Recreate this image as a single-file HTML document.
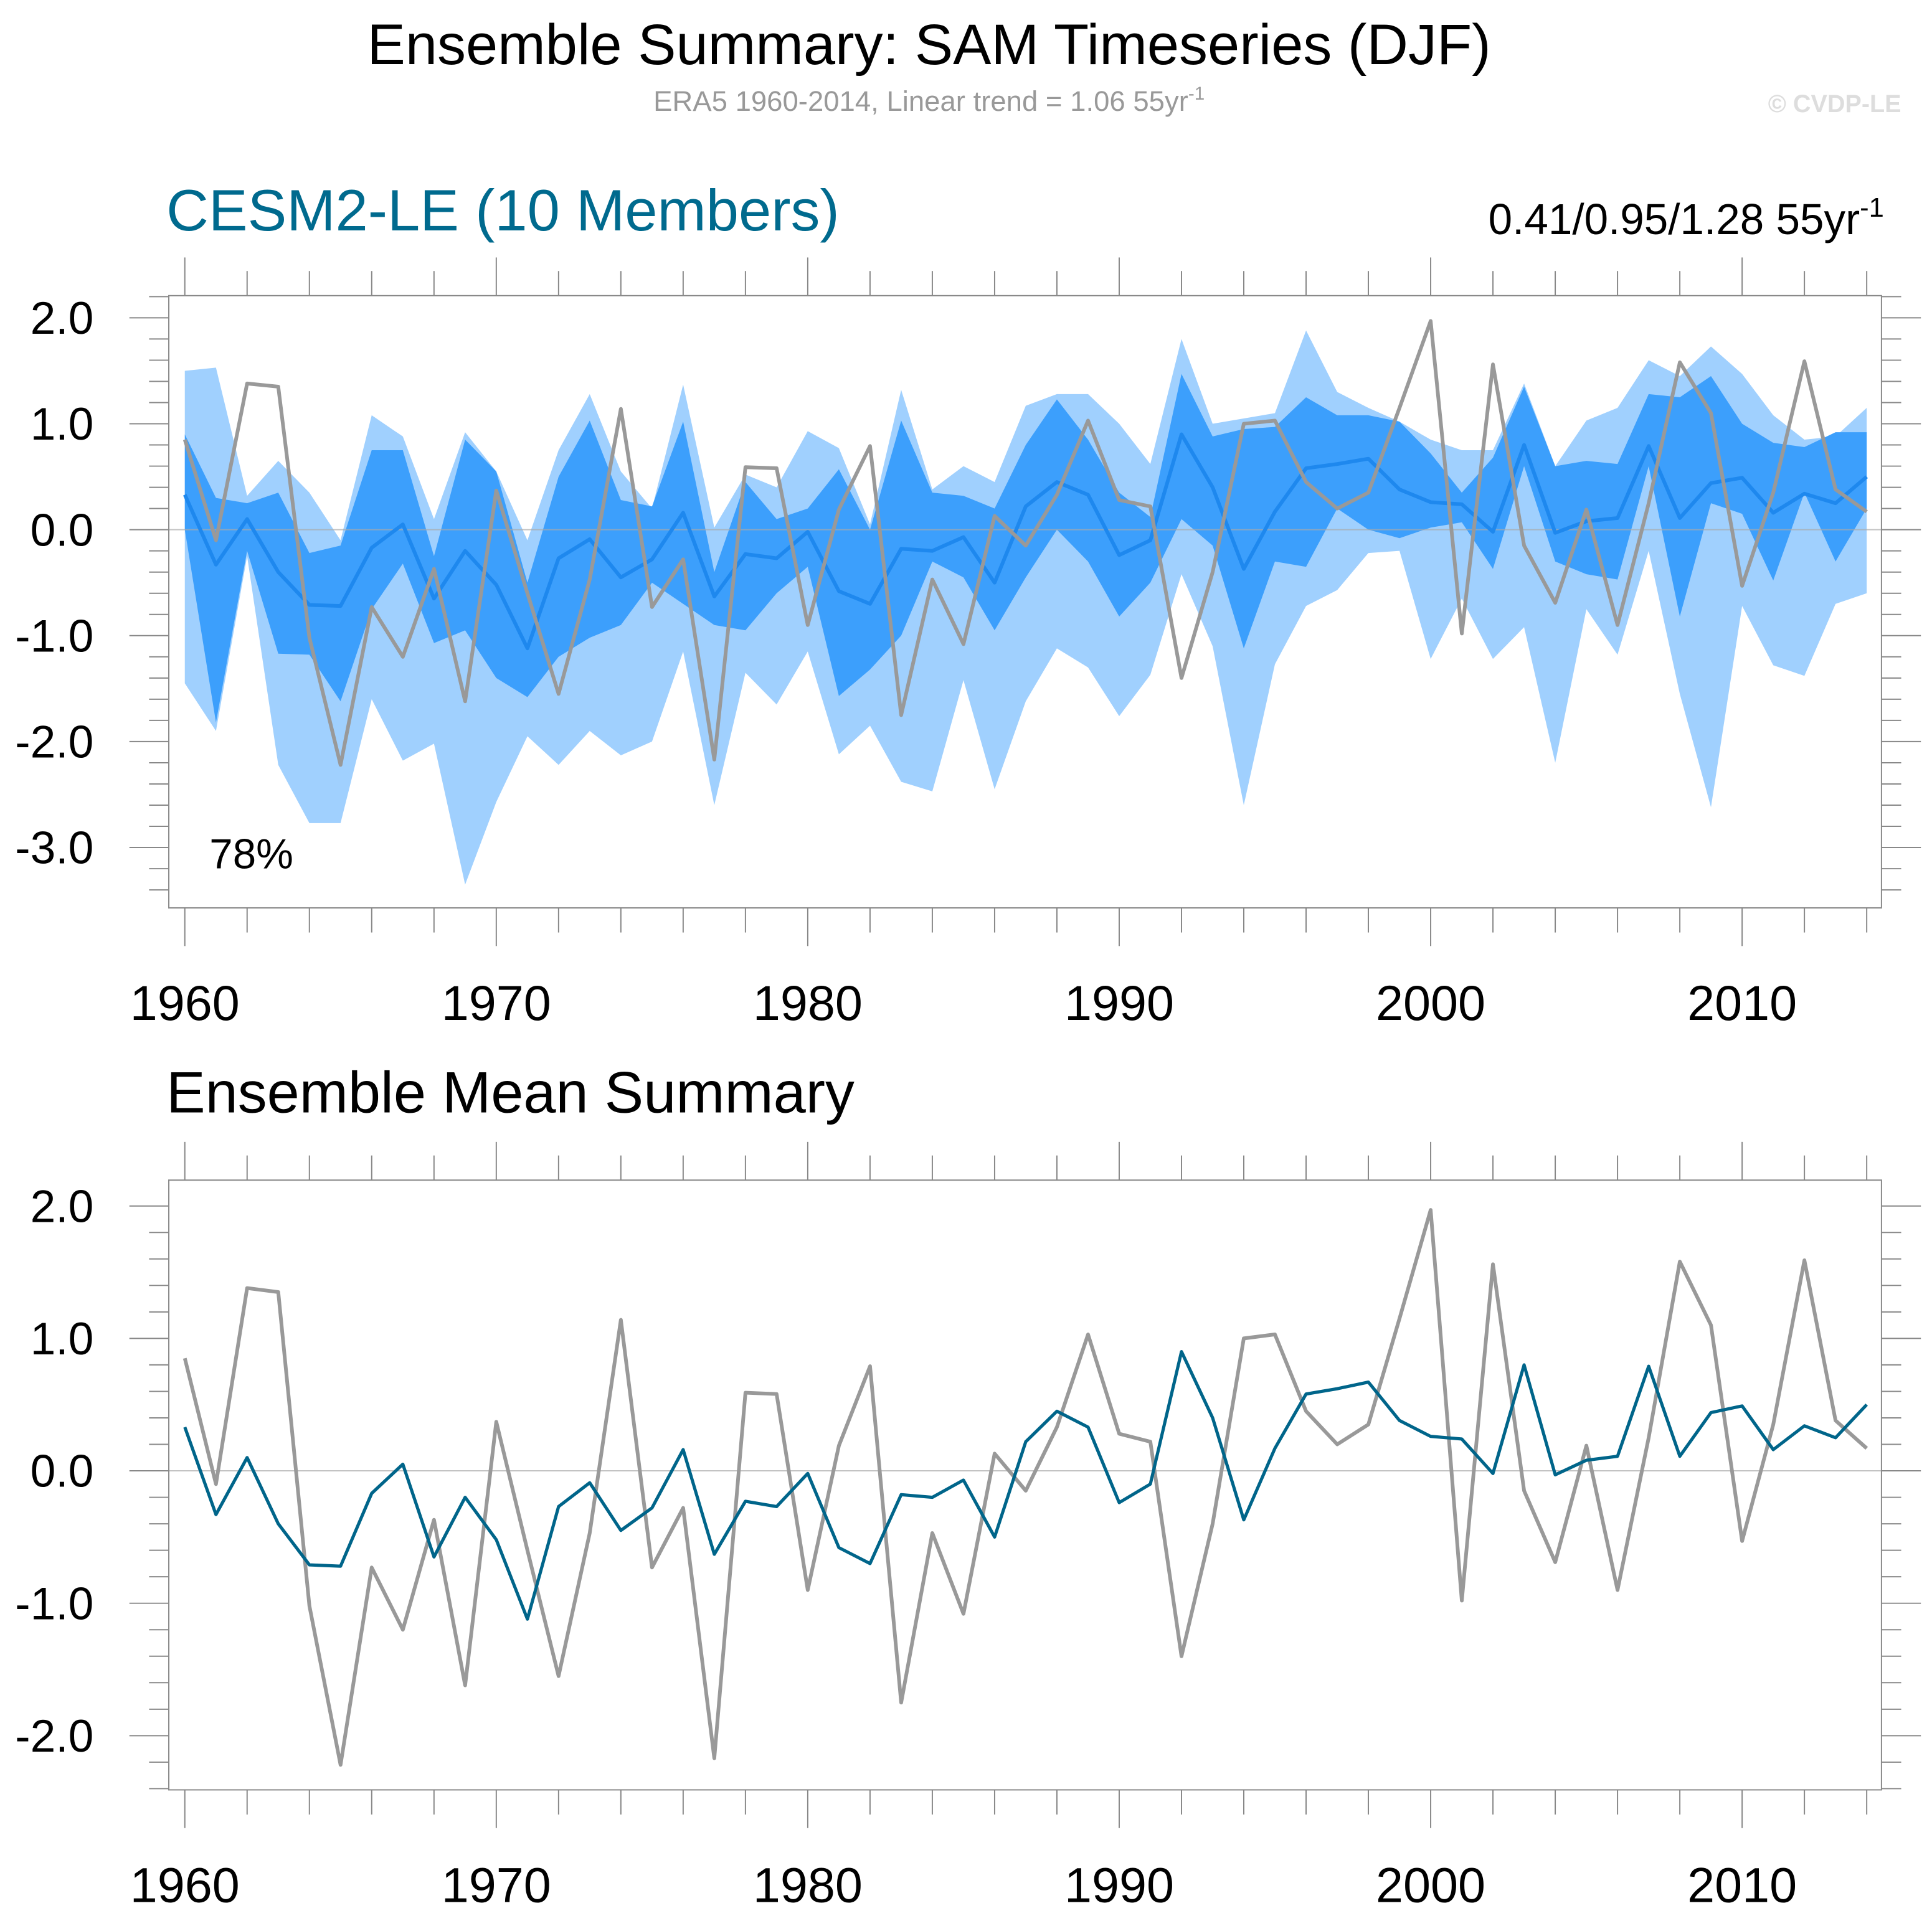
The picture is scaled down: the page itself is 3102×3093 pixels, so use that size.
<!DOCTYPE html>
<html><head><meta charset="utf-8"><style>
html,body{margin:0;padding:0;background:#fff;}
svg{display:block;font-family:"Liberation Sans",sans-serif;}
</style></head><body>
<svg id="chart" width="3102" height="3093" viewBox="0 0 1568 1563.5" preserveAspectRatio="none" xmlns="http://www.w3.org/2000/svg">
<text x="754" y="52" font-size="46.5" text-anchor="middle" fill="#000">Ensemble Summary: SAM Timeseries (DJF)</text>
<text x="754" y="90" font-size="23" text-anchor="middle" fill="#999">ERA5 1960-2014, Linear trend = 1.06 55yr<tspan dy="-9" font-size="15">-1</tspan></text>
<text x="1543" y="91" font-size="20" font-weight="bold" text-anchor="end" fill="#ddd">© CVDP-LE</text>
<text x="135" y="187" font-size="47.5" fill="#006a8e">CESM2-LE (10 Members)</text>
<text x="1529" y="190" font-size="35" text-anchor="end" fill="#000">0.41/0.95/1.28 55yr<tspan dy="-14" font-size="22">-1</tspan></text>
<text x="135" y="903" font-size="47.4" fill="#000">Ensemble Mean Summary</text>
<g id="p1"></g><g id="p2"></g>
</svg>
<script>
const years=[];for(let y=1960;y<=2014;y++)years.push(y);
const obs=[0.85,-0.1,1.38,1.35,-1.02,-2.22,-0.73,-1.2,-0.37,-1.62,0.37,-0.6,-1.55,-0.47,1.14,-0.73,-0.28,-2.17,0.59,0.58,-0.9,0.19,0.79,-1.75,-0.47,-1.08,0.13,-0.15,0.33,1.03,0.28,0.22,-1.4,-0.4,1.0,1.03,0.45,0.2,0.35,1.15,1.97,-0.98,1.56,-0.15,-0.69,0.19,-0.9,0.25,1.58,1.1,-0.53,0.35,1.59,0.38,0.17];
const ensMean=[0.33,-0.33,0.1,-0.4,-0.71,-0.72,-0.17,0.05,-0.65,-0.2,-0.52,-1.12,-0.27,-0.09,-0.45,-0.28,0.16,-0.63,-0.23,-0.27,-0.02,-0.58,-0.7,-0.18,-0.2,-0.07,-0.5,0.22,0.45,0.33,-0.24,-0.1,0.9,0.4,-0.37,0.17,0.58,0.62,0.67,0.38,0.26,0.24,-0.02,0.8,-0.03,0.08,0.11,0.79,0.11,0.44,0.49,0.16,0.34,0.25,0.5];
const ensMax=[1.5,1.53,0.32,0.65,0.35,-0.1,1.08,0.88,0.1,0.92,0.55,-0.1,0.75,1.28,0.55,0.2,1.37,0.02,0.52,0.4,0.93,0.77,0.05,1.32,0.38,0.6,0.45,1.17,1.28,1.28,1.0,0.62,1.8,1.0,1.05,1.1,1.88,1.3,1.15,1.02,0.85,0.75,0.75,1.38,0.6,1.03,1.15,1.6,1.45,1.73,1.47,1.08,0.85,0.88,1.15];
const ensMin=[-1.45,-1.9,-0.25,-2.22,-2.77,-2.77,-1.6,-2.18,-2.02,-3.35,-2.57,-1.95,-2.22,-1.9,-2.13,-2.0,-1.15,-2.6,-1.35,-1.65,-1.15,-2.12,-1.85,-2.38,-2.47,-1.42,-2.45,-1.62,-1.12,-1.3,-1.76,-1.37,-0.42,-1.1,-2.6,-1.27,-0.72,-0.57,-0.22,-0.2,-1.22,-0.65,-1.22,-0.92,-2.2,-0.75,-1.18,-0.2,-1.55,-2.62,-0.72,-1.28,-1.38,-0.7,-0.6];
const ensHi=[0.9,0.3,0.25,0.35,-0.22,-0.15,0.75,0.75,-0.25,0.85,0.55,-0.5,0.5,1.03,0.28,0.22,1.02,-0.4,0.45,0.1,0.2,0.57,0.0,1.03,0.35,0.32,0.2,0.8,1.23,0.85,0.35,0.12,1.47,0.88,0.95,0.97,1.25,1.08,1.08,1.02,0.72,0.35,0.68,1.35,0.6,0.65,0.62,1.28,1.25,1.45,1.0,0.82,0.78,0.92,0.92];
const ensLo=[0.0,-1.82,-0.2,-1.17,-1.18,-1.62,-0.75,-0.32,-1.07,-0.95,-1.4,-1.58,-1.2,-1.02,-0.9,-0.5,-0.7,-0.9,-0.95,-0.6,-0.35,-1.57,-1.32,-1.0,-0.3,-0.45,-0.95,-0.45,0.0,-0.3,-0.82,-0.5,0.1,-0.15,-1.12,-0.3,-0.35,0.2,0.0,-0.08,0.02,0.07,-0.37,0.6,-0.3,-0.42,-0.47,0.6,-0.82,0.25,0.15,-0.48,0.35,-0.3,0.2];
const xLabels=[1960,1970,1980,1990,2000,2010];
const yLabels1=[2,1,0,-1,-2,-3];
const yLabels2=[2,1,0,-1,-2];

const NS="http://www.w3.org/2000/svg";
function mk(parent,tag,attrs,name){const e=document.createElementNS(NS,tag);for(const k in attrs)e.setAttribute(k,attrs[k]);


parent.appendChild(e);return e;}
const xs=y=>150+(y-1960)*(1515-150)/54;

function panel(g,top,bot,y0,ppu,ymin,ymax,yl,bands,meanColor,pre){
  const ys=v=>y0-v*ppu;
  const L=137,R=1527;
  if(bands){
    const up=years.map((y,i)=>xs(y)+','+ys(ensMax[i])).join(' ');
    const dn=years.slice().reverse().map((y,j)=>{const i=years.length-1-j;return xs(y)+','+ys(ensMin[i]);}).join(' ');
    mk(g,'polygon',{points:up+' '+dn,fill:'#a0d0fe'},pre+'minmax-band');
    const up2=years.map((y,i)=>xs(y)+','+ys(ensHi[i])).join(' ');
    const dn2=years.slice().reverse().map((y,j)=>{const i=years.length-1-j;return xs(y)+','+ys(ensLo[i]);}).join(' ');
    mk(g,'polygon',{points:up2+' '+dn2,fill:'#3c9ffc'},pre+'inner-band');
  }
  mk(g,'line',{x1:L,x2:R,y1:ys(0),y2:ys(0),stroke:'#aaa','stroke-width':1,opacity:0.7},pre+'zero-line');
  mk(g,'rect',{x:L,y:top,width:R-L,height:bot-top,fill:'none',stroke:'#888','stroke-width':1},pre+'plot-frame');
  years.forEach(y=>{
    const maj=(y%10===0), t=(y%2===0);
    if(!t&&!maj)return;
    const len=maj?31:20,x=xs(y);
    mk(g,'line',{x1:x,x2:x,y1:top,y2:top-len,stroke:'#888','stroke-width':1},pre+'x-tick-top');
    mk(g,'line',{x1:x,x2:x,y1:bot,y2:bot+len,stroke:'#888','stroke-width':1},pre+'x-tick-bottom');
  });
  xLabels.forEach(y=>{const t=mk(g,'text',{x:xs(y),y:bot+91,'font-size':40,'text-anchor':'middle',fill:'#000'},pre+'x-label');t.textContent=y;});
  for(let k=Math.round(ymin*5);k<=Math.round(ymax*5);k++){
    const v=k/5,yy=ys(v);if(yy<top-0.5||yy>bot+0.5)continue;
    const maj=(k%5===0),len=maj?32:16;
    mk(g,'line',{x1:L,x2:L-len,y1:yy,y2:yy,stroke:'#888','stroke-width':1},pre+'y-tick-left');
    mk(g,'line',{x1:R,x2:R+len,y1:yy,y2:yy,stroke:'#888','stroke-width':1},pre+'y-tick-right');
  }
  yl.forEach(v=>{const t=mk(g,'text',{x:76,y:ys(v)+13,'font-size':37,'text-anchor':'end',fill:'#000'},pre+'y-label');t.textContent=v.toFixed(1);});
  const pl=(arr,col,w,n)=>mk(g,'polyline',{points:years.map((y,i)=>xs(y)+','+ys(arr[i])).join(' '),fill:'none',stroke:col,'stroke-width':w,'stroke-linejoin':'round'},n);
  if(bands){pl(ensMean,meanColor,3,pre+'ensemble-mean-line');pl(obs,'#999',3,pre+'observed-line');}
  else{pl(obs,'#999',3,pre+'observed-line');pl(ensMean,meanColor,2.6,pre+'ensemble-mean-line');}
}
panel(document.getElementById('p1'),240,737,430,86,-3.6,2.2,yLabels1,true,'#1e88ee','p1-');
panel(document.getElementById('p2'),958,1453,1194,107.5,-2.4,2.0,yLabels2,false,'#00658a','p2-');
const pc=mk(document.getElementById('p1'),'text',{x:170,y:705,'font-size':34,fill:'#000'},'percent-label');
pc.textContent='78%';
</script>
</body></html>
